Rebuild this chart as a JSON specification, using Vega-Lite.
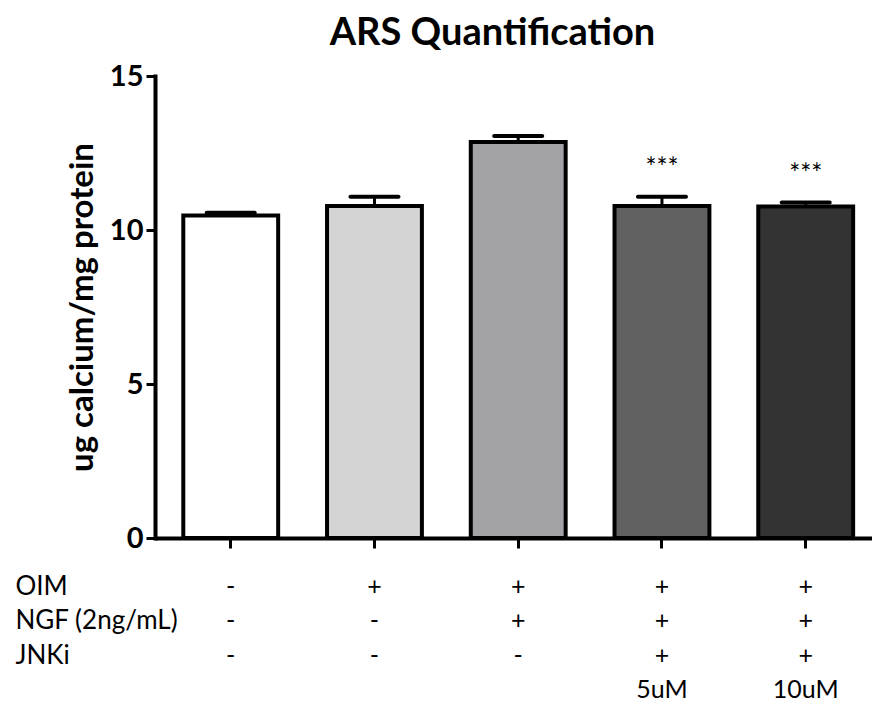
{
  "$schema": "https://vega.github.io/schema/vega-lite/v6.json",
  "autosize": "none",
  "width": 717,
  "height": 462,
  "padding": {"left": 155, "top": 76, "right": 0, "bottom": 164},
  "background": "white",
  "config": {
    "view": {"stroke": null},
    "font": "Lato",
    "axisY": {
      "grid": false,
      "labelFont": "Lato", "labelFontSize": 29, "labelFontWeight": "bold", "labelColor": "black", "labelPadding": 3,
      "domainColor": "black", "domainWidth": 4, "domainCap": "square",
      "tickColor": "black", "tickWidth": 3, "tickSize": 9,
      "titleFont": "Lato", "titleFontSize": 33, "titleFontWeight": "bold", "titleColor": "black", "titlePadding": 10
    },
    "axisX": {
      "labelAngle": 0,
      "labelFont": "Lato", "labelFontSize": 25, "labelColor": "black",
      "labelLineHeight": 34.5, "labelBaseline": "alphabetic", "labelPadding": 46,
      "labelFlush": false, "labelOverlap": false,
      "domainColor": "black", "domainWidth": 4,
      "tickColor": "black", "tickWidth": 3, "tickSize": 10,
      "titleFont": "Lato", "titleFontSize": 26, "titleFontWeight": "normal", "titleColor": "black",
      "titleLineHeight": 34.5, "titleAlign": "left", "titleAnchor": "start", "titleBaseline": "alphabetic",
      "titleX": -140, "titleY": 56
    }
  },
  "title": {"text": "ARS Quantification", "fontSize": 38, "font": "Lato", "fontWeight": "bold", "color": "black", "anchor": "middle", "dx": -21, "offset": 9},
  "data": {"values": [
    {"group": "-,-,-,", "mean": 10.47, "upper": 10.56, "sig": ""},
    {"group": "+,-,-,", "mean": 10.78, "upper": 11.08, "sig": ""},
    {"group": "+,+,-,", "mean": 12.86, "upper": 13.05, "sig": ""},
    {"group": "+,+,+,5uM", "mean": 10.78, "upper": 11.08, "sig": "***"},
    {"group": "+,+,+,10uM", "mean": 10.76, "upper": 10.89, "sig": "***"}
  ]},
  "encoding": {
    "x": {
      "field": "group", "type": "nominal", "sort": null,
      "scale": {"paddingInner": 0.34, "paddingOuter": 0.164, "align": 0.6},
      "axis": {
        "labelExpr": "split(datum.label, ',')",
        "title": ["OIM", "NGF (2ng/mL)", "JNKi"]
      }
    }
  },
  "layer": [
    {
      "mark": {"type": "bar", "stroke": "black", "strokeWidth": 4},
      "encoding": {
        "y": {
          "field": "mean", "type": "quantitative",
          "scale": {"domain": [0, 15], "nice": false},
          "axis": {"values": [0, 5, 10, 15], "title": "ug calcium/mg protein"}
        },
        "fill": {
          "field": "group", "type": "nominal", "sort": null, "legend": null,
          "scale": {"range": ["#ffffff", "#d4d4d4", "#a3a2a7", "#616161", "#333333"]}
        }
      }
    },
    {
      "mark": {"type": "rule", "color": "black", "strokeWidth": 3},
      "encoding": {
        "y": {"field": "mean", "type": "quantitative"},
        "y2": {"field": "upper"}
      }
    },
    {
      "mark": {"type": "tick", "color": "black", "size": 52, "thickness": 4, "cornerRadius": 2, "opacity": 1},
      "encoding": {
        "y": {"field": "upper", "type": "quantitative"}
      }
    },
    {
      "mark": {"type": "text", "font": "Lato", "fontSize": 26, "color": "black", "baseline": "bottom", "dy": -15},
      "encoding": {
        "y": {"field": "upper", "type": "quantitative"},
        "text": {"field": "sig"}
      }
    }
  ]
}
